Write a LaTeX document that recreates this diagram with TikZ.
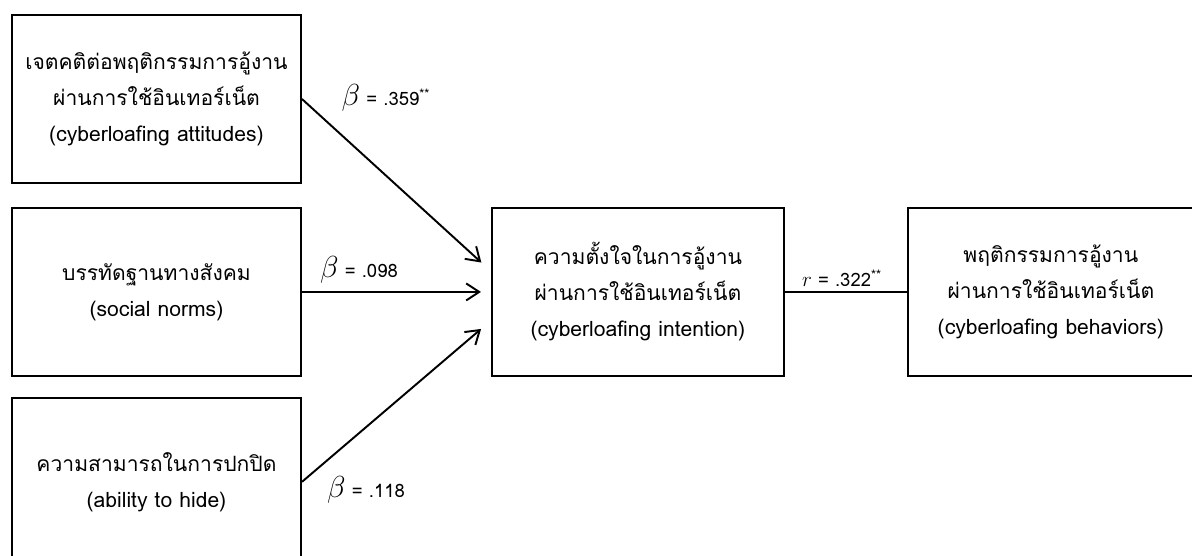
\documentclass[tikz,border=0pt]{standalone}
\usepackage{fontspec}
\newfontfamily\thaifont[Script=Thai]{Loma}
\usepackage{tikz}
\usetikzlibrary{positioning, arrows.meta, calc}

\tikzset{
  varbox/.style={rectangle, draw, line width=1.1pt, minimum width=5.78cm, minimum height=3.36cm,
    align=center, font=\thaifont\fontsize{12}{20.5}\selectfont},
  linkarrow/.style={-{Straight Barb[length=2.6mm, width=3.4mm]}, line width=1.1pt, shorten >=0.26cm},
  coef/.style={font=\thaifont\fontsize{10.5}{12}\selectfont, inner sep=0pt}
}

\begin{document}
\begin{tikzpicture}[node distance=3cm, auto]
    \useasboundingbox (0,0) rectangle (23.84,-11.12);
    \node (attitude) [varbox] at (3.13,-1.98) {เจตคติต่อพฤติกรรมการอู้งาน\\ผ่านการใช้อินเทอร์เน็ต\\(cyberloafing attitudes)};
    \node (norms) [varbox, below=0.46cm of attitude] {บรรทัดฐานทางสังคม\\(social norms)};
    \node (hide) [varbox, below=0.4cm of norms] {ความสามารถในการปกปิด\\(ability to hide)};
    \node (intention) [varbox, minimum width=5.84cm, right=3.78cm of norms] {ความตั้งใจในการอู้งาน\\ผ่านการใช้อินเทอร์เน็ต\\(cyberloafing intention)};
    \node (behavior) [varbox, minimum width=5.72cm, right=2.44cm of intention] {พฤติกรรมการอู้งาน\\ผ่านการใช้อินเทอร์เน็ต\\(cyberloafing behaviors)};

    \draw[linkarrow] (attitude.east) -- (intention.172);
    \draw[linkarrow, shorten >=0.2cm] (norms) -- (intention);
    \draw[linkarrow] (hide.east) -- (intention.191);
    \draw[line width=1.1pt] (intention) -- (behavior);

    \node (battitude) [coef] at (7.72,-1.96) {{\fontsize{19}{19}\selectfont$\beta$} = .359\textsuperscript{**}};
    \node (bnorms) [coef] at (7.18,-5.4) {{\fontsize{19}{19}\selectfont$\beta$} = .098};
    \node (bhide) [coef] at (7.32,-9.8) {{\fontsize{19}{19}\selectfont$\beta$} = .118};
    \node (rintent) [coef] at (16.84,-5.56) {{\fontsize{13}{13}\selectfont$r$} = .322\textsuperscript{**}};
\end{tikzpicture}
\end{document}
